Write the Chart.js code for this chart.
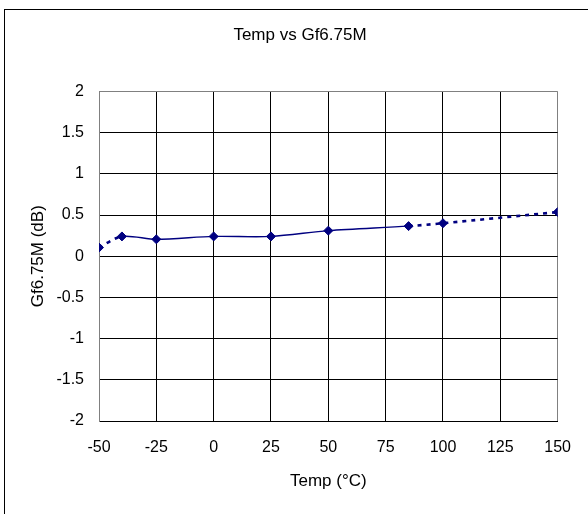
<!DOCTYPE html>
<html>
<head>
<meta charset="utf-8">
<script src="https://cdn.jsdelivr.net/npm/chart.js@4/dist/chart.umd.min.js"></script>
<style>
  html, body { margin: 0; padding: 0; background: #fff; }
  #frame { position: absolute; left: 4px; top: 9px; width: 700px; height: 700px; border: 1px solid #000; }
  #wrap { position: absolute; left: 0; top: 0; width: 588px; height: 514px; }
</style>
</head>
<body>
<div id="frame"></div>
<div id="wrap"><canvas id="chart" width="588" height="514"></canvas></div>
<script>
// temperatures (degC) and measured gain (dB)
const temps = [-50, -40, -25, 0, 25, 50, 85, 100, 150];
const gainDb = [0.105, 0.24, 0.205, 0.24, 0.24, 0.31, 0.365, 0.40, 0.535];
const xTicks = [-50, -25, 0, 25, 50, 75, 100, 125, 150];
const yTicks = [-2, -1.5, -1, -0.5, 0, 0.5, 1, 1.5, 2];

const navy = '#000080';
const family = 'Arial, "Liberation Sans", sans-serif';
const tickFont = { family: family, size: 16 };
const titleFont = { family: family, size: 17 };

// the measured range runs -40..85, the outer pieces are drawn dotted
function isDotted(ctx) {
    return ctx.p0DataIndex === 0 || ctx.p0DataIndex >= 6;
}

new Chart(document.getElementById('chart'), {
    type: 'scatter',
    data: {
        datasets: [{
            data: temps.map((t, i) => ({ x: t, y: gainDb[i] })),
            showLine: true,
            borderColor: navy,
            backgroundColor: navy,
            borderWidth: 1.4,
            tension: 0.3,
            pointStyle: 'rectRot',
            pointRadius: 4.5,
            pointHoverRadius: 4.5,
            pointBorderWidth: 1,
            segment: {
                borderDash: ctx => isDotted(ctx) ? [4, 5] : undefined,
                borderWidth: ctx => isDotted(ctx) ? 2.6 : 1.4
            }
        }]
    },
    options: {
        responsive: false,
        animation: false,
        layout: { padding: { left: 12, top: 0, right: 0, bottom: 0 } },
        plugins: {
            legend: { display: false },
            tooltip: { enabled: false },
            title: {
                display: true,
                text: 'Temp vs Gf6.75M',
                color: '#000',
                font: { ...titleFont, weight: 'normal' },
                padding: { top: 25, bottom: 46 }
            }
        },
        scales: {
            x: {
                type: 'linear',
                min: -50,
                max: 150,
                afterBuildTicks: s => { s.ticks = xTicks.map(v => ({ value: v })); },
                afterFit: s => { s.height = 93; },
                ticks: { color: '#000', font: tickFont, padding: 17, maxRotation: 0 },
                grid: {
                    drawTicks: false,
                    color: c => (c.tick && (c.tick.value === 150 || c.tick.value === -50)) ? '#808080' : '#000',
                    lineWidth: 1
                },
                border: { color: '#000', width: 1 },
                title: {
                    display: true,
                    text: 'Temp (\u00B0C)',
                    color: '#000',
                    font: titleFont,
                    padding: { top: 0, bottom: 22 }
                }
            },
            y: {
                type: 'linear',
                min: -2,
                max: 2,
                afterBuildTicks: s => { s.ticks = yTicks.map(v => ({ value: v })); },
                afterFit: s => { s.width = 87; },
                ticks: { color: '#000', font: tickFont, padding: 15, callback: v => String(v) },
                grid: {
                    drawTicks: false,
                    color: c => (c.tick && c.tick.value === 2) ? '#808080' : '#000',
                    lineWidth: 1
                },
                border: { color: '#808080', width: 1 },
                title: {
                    display: true,
                    text: 'Gf6.75M (dB)',
                    color: '#000',
                    font: titleFont,
                    padding: { top: 16, bottom: 0 }
                }
            },
            // empty right-hand strip so the plot ends where the reference does
            yRight: {
                type: 'linear',
                position: 'right',
                min: -2,
                max: 2,
                afterFit: s => { s.width = 25; },
                ticks: { display: false },
                grid: { display: false, drawTicks: false },
                border: { display: false }
            }
        }
    }
});
</script>
</body>
</html>
